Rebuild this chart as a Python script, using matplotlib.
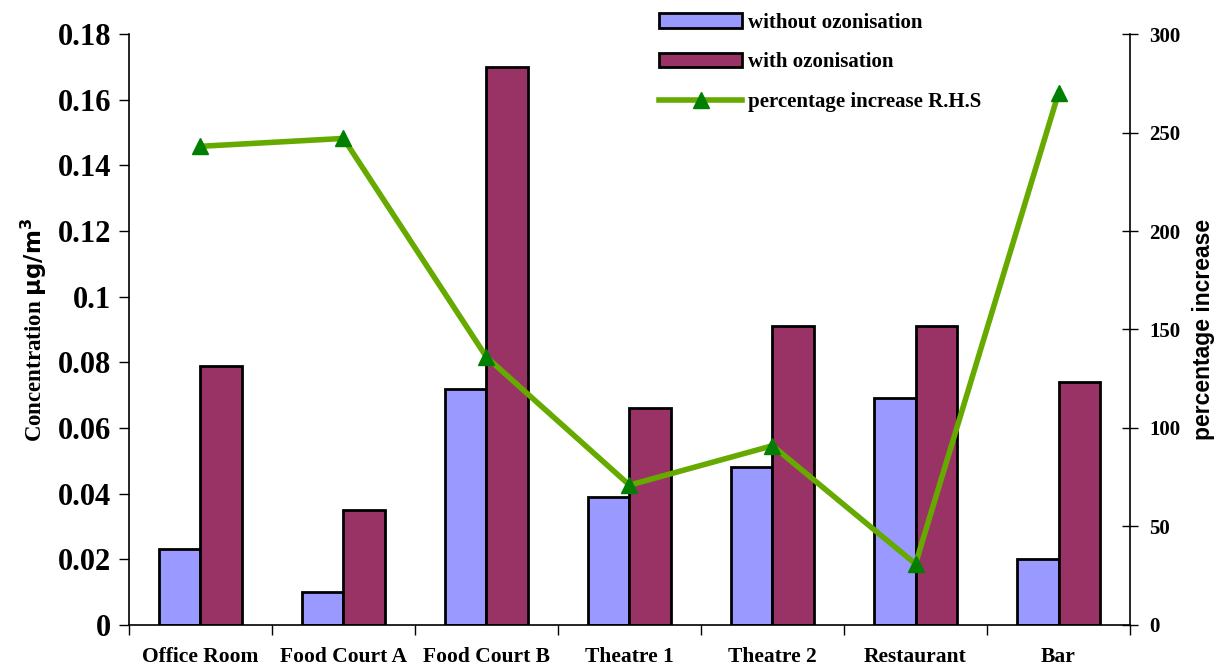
import matplotlib.pyplot as plt
import numpy as np

sites = ['Office Room', 'Food Court A', 'Food Court B', 'Theatre 1',
         'Theatre 2', 'Restaurant', 'Bar']
without_ozone = [0.023, 0.010, 0.072, 0.039, 0.048, 0.069, 0.020]
with_ozone = [0.079, 0.035, 0.170, 0.066, 0.091, 0.091, 0.074]
pct_increase = [243, 247, 136, 71, 91, 31, 270]

serif = 'Liberation Serif'
sans = 'Liberation Sans'

fig = plt.figure(figsize=(12.19, 6.67), dpi=100)
ax = fig.add_axes([0.1058, 0.063, 0.8212, 0.886])

x = np.arange(len(sites))
w = 0.29
b1 = ax.bar(x - w / 2, without_ozone, w, color='#9999ff', edgecolor='black',
            linewidth=2, label='without ozonisation', zorder=2)
b2 = ax.bar(x + w / 2, with_ozone, w, color='#993366', edgecolor='black',
            linewidth=2, label='with ozonisation', zorder=2)

ax.set_xlim(-0.5, len(sites) - 0.5)
ax.set_ylim(0, 0.18)
ax.set_yticks(np.arange(0, 0.181, 0.02))
ax.set_yticklabels(['0', '0.02', '0.04', '0.06', '0.08', '0.1', '0.12',
                    '0.14', '0.16', '0.18'])
for lab in ax.get_yticklabels():
    lab.set_fontfamily(serif)
    lab.set_fontweight('bold')
    lab.set_fontsize(22)
ax.tick_params(axis='y', direction='out', length=7, width=1, pad=6)

# category boundaries carry the ticks, names sit centred underneath
ax.set_xticks(np.arange(-0.5, len(sites), 1.0))
ax.set_xticklabels([])
ax.tick_params(axis='x', direction='out', length=7, width=1)
for i, s in enumerate(sites):
    ax.text(i, -0.0098, s, ha='center', va='center', fontfamily=serif,
            fontweight='bold', fontsize=15.5)

ax.spines['top'].set_visible(False)
ax.spines['left'].set_linewidth(1.2)
ax.spines['bottom'].set_linewidth(1.2)
ax.spines['right'].set_visible(False)

ax.set_ylabel(r'Concentration $\mathbf{\mu g/m^3}$', fontfamily=serif,
              fontweight='bold', fontsize=16.5, labelpad=6)

ax2 = ax.twinx()
ax2.set_ylim(0, 300)
ax2.set_yticks(np.arange(0, 301, 50))
for lab in ax2.get_yticklabels():
    lab.set_fontfamily(serif)
    lab.set_fontweight('bold')
    lab.set_fontsize(15)
ax2.tick_params(axis='y', direction='inout', length=12, width=1, pad=8)
ax2.spines['top'].set_visible(False)
ax2.spines['left'].set_visible(False)
ax2.spines['bottom'].set_visible(False)
ax2.spines['right'].set_linewidth(1.2)
ax2.set_ylabel('percentage increase', fontfamily=sans, fontweight='bold',
               fontsize=16.5, labelpad=8)

ln, = ax2.plot(x, pct_increase, color='#66aa00', linewidth=4, marker='^',
               markersize=12, markerfacecolor='#007f00',
               markeredgecolor='#007f00', label='percentage increase R.H.S',
               zorder=3)

fig.legend(handles=[b1, b2, ln], loc='upper left',
           bbox_to_anchor=(0.5406, 0.981), frameon=False,
           borderaxespad=0, borderpad=0,
           prop={'family': serif, 'weight': 'bold', 'size': 15},
           handlelength=4.0, handleheight=0.7, labelspacing=0.95,
           handletextpad=0.25)

fig.savefig('out.png', dpi=100)
